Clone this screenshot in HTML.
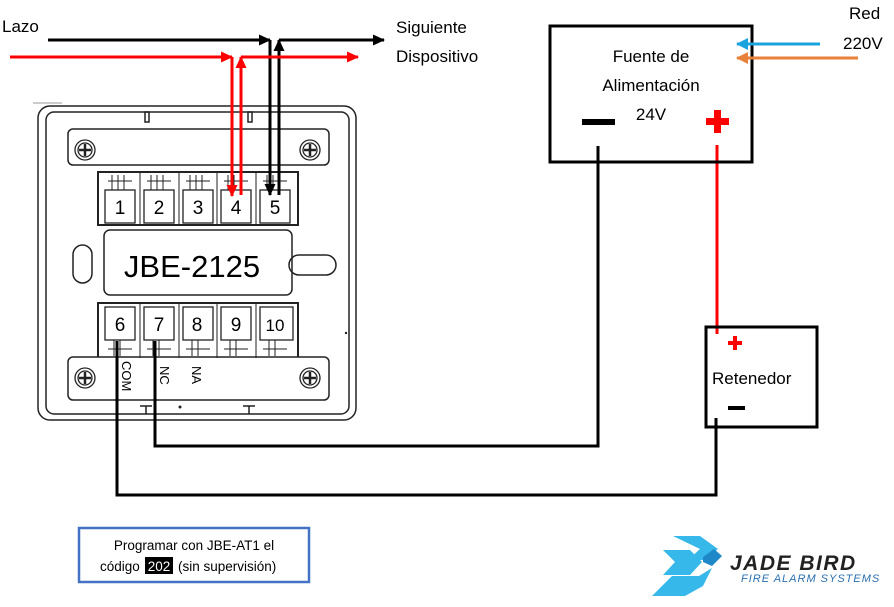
<!DOCTYPE html>
<html><head><meta charset="utf-8"><style>
html,body{margin:0;padding:0;background:#fff;}
svg{display:block;font-family:"Liberation Sans",sans-serif;}
</style></head><body>
<svg width="894" height="607" viewBox="0 0 894 607" xmlns="http://www.w3.org/2000/svg">
<defs>
<marker id="ab" markerWidth="12" markerHeight="11" refX="11" refY="5.5" orient="auto" markerUnits="userSpaceOnUse"><path d="M0,0 L12,5.5 L0,11 z" fill="#000"/></marker>
<marker id="ar" markerWidth="12" markerHeight="11" refX="11" refY="5.5" orient="auto" markerUnits="userSpaceOnUse"><path d="M0,0 L12,5.5 L0,11 z" fill="#f00"/></marker>
<marker id="abl" markerWidth="12" markerHeight="12" refX="11" refY="6" orient="auto" markerUnits="userSpaceOnUse"><path d="M0,0 L12,6 L0,12 z" fill="#1aa3dc"/></marker>
<marker id="aor" markerWidth="12" markerHeight="12" refX="11" refY="6" orient="auto" markerUnits="userSpaceOnUse"><path d="M0,0 L12,6 L0,12 z" fill="#e8823a"/></marker>
</defs>

<g fill="none" stroke="#222" stroke-width="1.5">
<rect x="38" y="106" width="318" height="314" rx="12"/>
<rect x="46" y="112" width="303" height="302" rx="8"/>
<line x1="33" y1="103" x2="62" y2="103" stroke="#999" stroke-width="1"/>
<rect x="145" y="112" width="4" height="10"/>
<rect x="248" y="112" width="4" height="10"/>
<rect x="68" y="129" width="261" height="36" rx="5" fill="#fff"/>
<rect x="98" y="172" width="200" height="53" stroke-width="2"/>
<rect x="104" y="230" width="188" height="65" rx="6"/>
<rect x="73" y="245" width="19" height="38" rx="9.5"/>
<rect x="289" y="255" width="47" height="20" rx="10"/>
<rect x="98" y="303" width="200" height="55" stroke-width="2"/>
<rect x="68" y="357" width="261" height="43" rx="5" fill="#fff"/>
<path d="M140 406 h12 M146 406 v8 M243 406 h12 M249 406 v8"/>
</g>
<circle cx="180" cy="407" r="1.5" fill="#222"/>
<circle cx="346" cy="333" r="1.2" fill="#222"/>

<g fill="none" stroke="#222" stroke-width="1.3">
<circle cx="85" cy="150" r="10"/><circle cx="85" cy="150" r="7"/>
<circle cx="310" cy="150" r="10"/><circle cx="310" cy="150" r="7"/>
<circle cx="85" cy="378" r="10"/><circle cx="85" cy="378" r="7"/>
<circle cx="310" cy="378" r="10"/><circle cx="310" cy="378" r="7"/>
</g>
<g stroke="#222" stroke-width="2.5">
<path d="M79 150h12M85 144v12M304 150h12M310 144v12M79 378h12M85 372v12M304 378h12M310 372v12"/>
</g>

<g fill="#fff" stroke="#222" stroke-width="1.3">
<rect x="105" y="190" width="30" height="33"/>
<rect x="144" y="190" width="30" height="33"/>
<rect x="183" y="190" width="30" height="33"/>
<rect x="221" y="190" width="30" height="33"/>
<rect x="260" y="190" width="30" height="33"/>
</g>
<g stroke="#222" stroke-width="1" fill="none">
<path d="M112 175v15M118 175v15M124 175v15M151 175v15M157 175v15M163 175v15M190 175v15M196 175v15M202 175v15M228 175v15M234 175v15M240 175v15M267 175v15M273 175v15M279 175v15"/>
<path d="M108 181h24M147 181h24M186 181h24M224 181h24M263 181h24"/>
<path d="M140 172v53M179 172v53M217 172v53M256 172v53"/>
</g>
<g font-size="19" fill="#000" text-anchor="middle">
<text x="120" y="214">1</text><text x="159" y="214">2</text><text x="198" y="214">3</text><text x="236" y="214">4</text><text x="275" y="214">5</text>
</g>

<text x="192" y="277" font-size="31" text-anchor="middle" fill="#000">JBE-2125</text>

<g fill="#fff" stroke="#222" stroke-width="1.3">
<rect x="105" y="307" width="30" height="33"/>
<rect x="144" y="307" width="30" height="33"/>
<rect x="183" y="307" width="30" height="33"/>
<rect x="221" y="307" width="30" height="33"/>
<rect x="260" y="307" width="33" height="33"/>
</g>
<g stroke="#222" stroke-width="1" fill="none">
<path d="M114 340v16M120 340v16M153 340v16M159 340v16M192 340v16M198 340v16M230 340v16M236 340v16M269 340v16M275 340v16"/>
<path d="M108 349h24M147 349h24M186 349h24M224 349h24M263 349h24"/>
<path d="M140 303v55M179 303v55M217 303v55M256 303v55"/>
</g>
<g font-size="19" fill="#000" text-anchor="middle">
<text x="120" y="331">6</text><text x="159" y="331">7</text><text x="197" y="331">8</text><text x="236" y="331">9</text>
<text x="275" y="331" font-size="17">10</text>
</g>
<g font-size="13" fill="#000">
<text transform="translate(122,361) rotate(90)">COM</text>
<text transform="translate(160,366) rotate(90)">NC</text>
<text transform="translate(192,366) rotate(90)">NA</text>
</g>

<g fill="none" stroke-width="3">
<path d="M48 40 H270" stroke="#000" marker-end="url(#ab)"/>
<path d="M270 40 V195" stroke="#000" marker-end="url(#ab)"/>
<path d="M279 195 V40" stroke="#000" marker-end="url(#ab)"/>
<path d="M279 40 H384" stroke="#000" marker-end="url(#ab)"/>
<path d="M10 57 H232" stroke="#f00" marker-end="url(#ar)"/>
<path d="M232 57 V196" stroke="#f00" marker-end="url(#ar)"/>
<path d="M241 195 V57" stroke="#f00" marker-end="url(#ar)"/>
<path d="M241 57 H358" stroke="#f00" marker-end="url(#ar)"/>
</g>
<text x="2" y="32" font-size="17" fill="#000">Lazo</text>
<text x="396" y="33" font-size="17" fill="#000">Siguiente</text>
<text x="396" y="62" font-size="17" fill="#000">Dispositivo</text>

<g fill="none" stroke="#000" stroke-width="3">
<path d="M117 341 V495 H716 V418"/>
<path d="M155 341 V446 H598 V146"/>
</g>
<path d="M717 145 V334" stroke="#f00" stroke-width="3" fill="none"/>

<rect x="550" y="26" width="202" height="136" fill="none" stroke="#000" stroke-width="3"/>
<g font-size="17" fill="#000" text-anchor="middle">
<text x="651" y="62">Fuente de</text>
<text x="651" y="91">Alimentación</text>
<text x="651" y="120">24V</text>
</g>
<rect x="582" y="119" width="33" height="6" fill="#000"/>
<path d="M714 110h7v8h8v7h-8v8h-7v-8h-8v-7h8z" fill="#f00"/>
<path d="M820 44 H737" stroke="#1aa3dc" stroke-width="3" marker-end="url(#abl)"/>
<path d="M858 58 H737" stroke="#e8823a" stroke-width="3" marker-end="url(#aor)"/>
<text x="849" y="19" font-size="17" fill="#000">Red</text>
<text x="843" y="49" font-size="17" fill="#000">220V</text>

<rect x="706" y="327" width="111" height="100" fill="none" stroke="#000" stroke-width="3"/>
<path d="M733 336h4v5h5v4h-5v5h-4v-5h-5v-4h5z" fill="#f00"/>
<text x="712" y="384" font-size="17" fill="#000">Retenedor</text>
<rect x="728" y="406" width="17" height="4" fill="#000"/>

<rect x="79" y="528" width="230" height="54" fill="#fff" stroke="#4472c4" stroke-width="2.5"/>
<text x="194" y="550" font-size="13.5" fill="#000" text-anchor="middle">Programar con JBE-AT1 el</text>
<text x="100" y="571" font-size="13.5" fill="#000">código</text>
<rect x="145" y="557" width="28" height="17" fill="#000"/>
<text x="159" y="571" font-size="13.5" fill="#fff" text-anchor="middle">202</text>
<text x="178" y="571" font-size="13.5" fill="#000">(sin supervisión)</text>

<g>
<path d="M673 536 L700 536 L718 549 L705 560 L688 560 L700 549 Z" fill="#36b8ea"/>
<path d="M663 550 L690 550 L702 562 L690 575 L663 575 L675 562 Z" fill="#36b8ea"/>
<path d="M672 576 L699 576 L712 568 L703 586 L685 596 L652 596 Z" fill="#36b8ea"/>
<path d="M703 557 L714 549 L722 556 L712 566 L703 562 Z" fill="#1e88c8"/>
<text x="730" y="570" font-size="21" font-weight="bold" font-style="italic" fill="#222" letter-spacing="1.5">JADE BIRD</text>
<text x="741" y="582" font-size="11" font-style="italic" fill="#2a70b0" letter-spacing="1">FIRE ALARM SYSTEMS</text>
</g>
</svg>
</body></html>
